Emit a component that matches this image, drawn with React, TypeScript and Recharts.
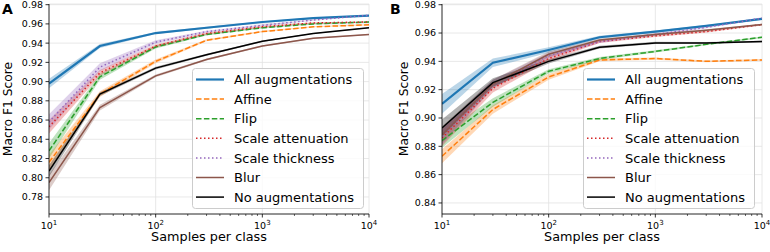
import React from 'react';
import {
  ComposedChart, Line, Area, XAxis, YAxis, CartesianGrid, Legend, Label,
} from 'recharts';

// samples per class (x positions of the measurements)
const samples = [10, 30, 100, 300, 1000, 3000, 10000];

const xMajorTicks = [10, 100, 1000, 10000];
const xTicks = [
  10, 20, 30, 40, 50, 60, 70, 80, 90,
  100, 200, 300, 400, 500, 600, 700, 800, 900,
  1000, 2000, 3000, 4000, 5000, 6000, 7000, 8000, 9000,
  10000,
];

const yTicksA = [0.78, 0.8, 0.82, 0.84, 0.86, 0.88, 0.9, 0.92, 0.94, 0.96, 0.98];
const yTicksB = [0.84, 0.86, 0.88, 0.9, 0.92, 0.94, 0.96, 0.98];

const seriesKeys = ['all', 'affine', 'flip', 'scaleAtt', 'scaleThick', 'blur', 'none'];
const seriesLabels = [
  'All augmentations', 'Affine', 'Flip', 'Scale attenuation',
  'Scale thickness', 'Blur', 'No augmentations',
];

// panel A
const aAll = [0.898, 0.937, 0.9505, 0.956, 0.962, 0.966, 0.9686];
const aAffine = [0.816, 0.887, 0.921, 0.943, 0.952, 0.957, 0.959];
const aFlip = [0.828, 0.905, 0.936, 0.949, 0.956, 0.96, 0.962];
const aScaleAtt = [0.853, 0.909, 0.937, 0.95, 0.957, 0.961, 0.962];
const aScaleThick = [0.858, 0.915, 0.941, 0.952, 0.9585, 0.964, 0.969];
const aBlur = [0.795, 0.873, 0.906, 0.923, 0.937, 0.945, 0.949];
const aNone = [0.807, 0.887, 0.914, 0.928, 0.942, 0.95, 0.956];

// half width of the shaded band, panel A
const aAllSpread = [0.005, 0.002, 0.001, 0.001, 0.0008, 0.0006, 0.0006];
const aAffineSpread = [0.008, 0.003, 0.002, 0.001, 0.0008, 0.0006, 0.0006];
const aFlipSpread = [0.008, 0.003, 0.0015, 0.001, 0.0008, 0.0006, 0.0006];
const aScaleAttSpread = [0.007, 0.003, 0.0015, 0.001, 0.0008, 0.0006, 0.0006];
const aScaleThickSpread = [0.008, 0.004, 0.002, 0.001, 0.0008, 0.0006, 0.0006];
const aBlurSpread = [0.008, 0.003, 0.0015, 0.001, 0.0008, 0.0006, 0.0006];
const aNoneSpread = [0.006, 0.002, 0.0015, 0.001, 0.0008, 0.0006, 0.0006];

// panel B
const bAll = [0.91, 0.939, 0.948, 0.957, 0.961, 0.965, 0.97];
const bAffine = [0.873, 0.906, 0.929, 0.941, 0.942, 0.94, 0.941];
const bFlip = [0.884, 0.911, 0.933, 0.942, 0.947, 0.952, 0.957];
const bScaleAtt = [0.886, 0.921, 0.942, 0.954, 0.958, 0.961, 0.966];
const bScaleThick = [0.887, 0.924, 0.944, 0.954, 0.959, 0.964, 0.9705];
const bBlur = [0.888, 0.924, 0.945, 0.955, 0.959, 0.962, 0.966];
const bNone = [0.893, 0.925, 0.94, 0.95, 0.953, 0.953, 0.954];

const bAllSpread = [0.007, 0.003, 0.002, 0.001, 0.0008, 0.0006, 0.0006];
const bAffineSpread = [0.005, 0.003, 0.002, 0.001, 0.0008, 0.0006, 0.0006];
const bFlipSpread = [0.005, 0.003, 0.0015, 0.001, 0.0008, 0.0006, 0.0006];
const bScaleAttSpread = [0.006, 0.003, 0.002, 0.001, 0.0008, 0.0006, 0.0006];
const bScaleThickSpread = [0.006, 0.003, 0.002, 0.001, 0.0008, 0.0006, 0.0006];
const bBlurSpread = [0.006, 0.003, 0.002, 0.001, 0.0008, 0.0006, 0.0006];
const bNoneSpread = [0.006, 0.003, 0.0015, 0.001, 0.0008, 0.0006, 0.0006];

const styles: Record<string, { color: string; width: number; dash?: string }> = {
  all: { color: '#1f77b4', width: 2.2 },
  affine: { color: '#ff7f0e', width: 1.5, dash: '5.5 2.4' },
  flip: { color: '#2ca02c', width: 1.5, dash: '5.5 2.4' },
  scaleAtt: { color: '#d62728', width: 1.5, dash: '1.5 2.5' },
  scaleThick: { color: '#9467bd', width: 1.5, dash: '1.5 2.5' },
  blur: { color: '#8c564b', width: 1.5 },
  none: { color: '#000000', width: 1.5 },
};

function buildRows(vals: number[][], spreads: number[][]) {
  return samples.map((x, i) => {
    const row: Record<string, any> = { x };
    seriesKeys.forEach((k, j) => {
      const v = vals[j][i];
      const s = spreads[j][i];
      row[k] = v;
      row[k + 'Band'] = [v - s, v + s];
    });
    return row;
  });
}

const dataA = buildRows(
  [aAll, aAffine, aFlip, aScaleAtt, aScaleThick, aBlur, aNone],
  [aAllSpread, aAffineSpread, aFlipSpread, aScaleAttSpread, aScaleThickSpread, aBlurSpread, aNoneSpread],
);
const dataB = buildRows(
  [bAll, bAffine, bFlip, bScaleAtt, bScaleThick, bBlur, bNone],
  [bAllSpread, bAffineSpread, bFlipSpread, bScaleAttSpread, bScaleThickSpread, bBlurSpread, bNoneSpread],
);

const LogTick = (props: any) => {
  const { x, y, payload } = props;
  const exp = Math.log10(payload.value);
  const major = Math.abs(exp - Math.round(exp)) < 1e-6;
  return (
    <g>
      <line x1={x} y1={y} x2={x} y2={y + (major ? 3.5 : 2)} stroke="#000" strokeWidth={major ? 0.8 : 0.6} />
      {major && (
        <text x={x} y={y + 14.5} textAnchor="middle" fontSize={9.5} fill="#000">
          10<tspan dy={-4} fontSize={7}>{Math.round(exp)}</tspan>
        </text>
      )}
    </g>
  );
};

const LegendBox = () => (
  <svg width={173} height={142}>
    <rect x={0.5} y={0.5} width={171} height={140} rx={3} fill="#fff" fillOpacity={0.8} stroke="#cccccc" strokeWidth={1} />
    {seriesKeys.map((k, i) => {
      const cy = 11.5 + i * 19.6;
      const st = styles[k];
      return (
        <g key={k}>
          <line x1={4} y1={cy} x2={32} y2={cy} stroke={st.color} strokeWidth={st.width} strokeDasharray={st.dash} />
          <text x={42} y={cy + 4.6} fontSize={13} fill="#000">{seriesLabels[i]}</text>
        </g>
      );
    })}
  </svg>
);

// grid only at the decades, not at the minor ticks
const decadeGrid = ({ xAxis, offset }: any) =>
  xMajorTicks.map((v) =>
    xAxis && typeof xAxis.scale === 'function'
      ? xAxis.scale(v)
      : offset.left + ((Math.log10(v) - 1) / 3) * offset.width,
  );

interface PanelProps {
  data: any[];
  yDomain: [number, number];
  yTicks: number[];
  yAxisWidth: number;
  rightMargin: number;
  yTitleX: number;
  legendLeft: number;
}

const Panel = ({ data, yDomain, yTicks, yAxisWidth, rightMargin, yTitleX, legendLeft }: PanelProps) => (
  <ComposedChart width={385} height={252} data={data} margin={{ top: 4, right: rightMargin, bottom: 0, left: 0 }}>
    <CartesianGrid stroke="#e2e2e2" strokeWidth={0.8} verticalCoordinatesGenerator={decadeGrid} />
    <XAxis
      dataKey="x"
      type="number"
      scale="log"
      domain={[10, 10000]}
      allowDataOverflow
      ticks={xTicks}
      interval={0}
      tick={<LogTick />}
      tickLine={false}
      tickSize={0}
      tickMargin={0}
      height={38}
      axisLine={{ stroke: '#000', strokeWidth: 0.8 }}
    >
      <Label
        content={({ viewBox }: any) => (
          <text x={viewBox.x + viewBox.width / 2} y={viewBox.y + 27} textAnchor="middle" fontSize={12.8} fill="#000">
            Samples per class
          </text>
        )}
      />
    </XAxis>
    <YAxis
      type="number"
      domain={yDomain}
      allowDataOverflow
      ticks={yTicks}
      interval={0}
      width={yAxisWidth}
      tickSize={3.5}
      tickMargin={2.5}
      tickFormatter={(v: number) => v.toFixed(2)}
      tick={{ fontSize: 9.5, fill: '#000' }}
      tickLine={{ stroke: '#000', strokeWidth: 0.8 }}
      axisLine={{ stroke: '#000', strokeWidth: 0.8 }}
    >
      <Label
        content={({ viewBox }: any) => {
          const cx = viewBox.x + yTitleX;
          const cy = viewBox.y + viewBox.height / 2;
          return (
            <text x={cx} y={cy} transform={`rotate(-90, ${cx}, ${cy})`} textAnchor="middle" fontSize={12.3} fill="#000">
              Macro F1 Score
            </text>
          );
        }}
      />
    </YAxis>
    {seriesKeys.map((k) => (
      <Area
        key={k + 'Band'}
        dataKey={k + 'Band'}
        type="linear"
        stroke="none"
        fill={styles[k].color}
        fillOpacity={0.3}
        isAnimationActive={false}
        activeDot={false}
        legendType="none"
      />
    ))}
    {seriesKeys.map((k, i) => (
      <Line
        key={k}
        dataKey={k}
        name={seriesLabels[i]}
        type="linear"
        stroke={styles[k].color}
        strokeWidth={styles[k].width}
        strokeDasharray={styles[k].dash}
        dot={false}
        activeDot={false}
        isAnimationActive={false}
      />
    ))}
    <Legend
      layout="vertical"
      align="center"
      verticalAlign="middle"
      content={() => <LegendBox />}
      wrapperStyle={{ position: 'absolute', left: legendLeft, top: 68, width: 173, height: 142, lineHeight: 0 }}
    />
  </ComposedChart>
);

export default function App() {
  return (
    <div style={{ position: 'absolute', left: 0, top: 0, width: 770, height: 252, background: '#fff', fontFamily: '"DejaVu Sans", sans-serif' }}>
      <div style={{ position: 'absolute', left: 0, top: 0 }}>
        <Panel data={dataA} yDomain={[0.7623, 0.9807]} yTicks={yTicksA} yAxisWidth={49} rightMargin={16} yTitleX={11.7} legendLeft={192} />
      </div>
      <div style={{ position: 'absolute', left: 385, top: 0 }}>
        <Panel data={dataB} yDomain={[0.8322, 0.9805]} yTicks={yTicksB} yAxisWidth={57} rightMargin={8} yTitleX={23.3} legendLeft={198} />
      </div>
      <div style={{ position: 'absolute', left: 2, top: 1.5, fontSize: 14, lineHeight: '14px', fontWeight: 'bold' }}>A</div>
      <div style={{ position: 'absolute', left: 390, top: 1.5, fontSize: 14, lineHeight: '14px', fontWeight: 'bold' }}>B</div>
    </div>
  );
}
